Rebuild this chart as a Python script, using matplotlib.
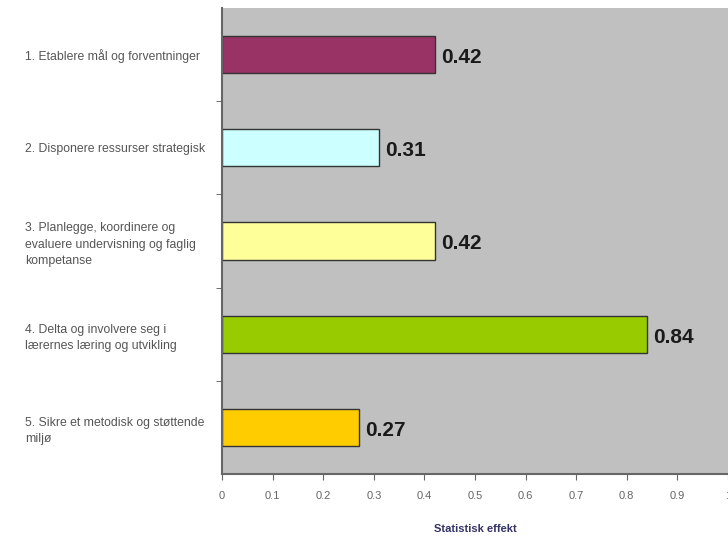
import matplotlib
matplotlib.use("Agg")
import matplotlib.pyplot as plt
from matplotlib.ticker import FixedLocator

categories = [
    "1. Etablere mål og forventninger",
    "2. Disponere ressurser strategisk",
    "3. Planlegge, koordinere og\nevaluere undervisning og faglig\nkompetanse",
    "4. Delta og involvere seg i\nlærernes læring og utvikling",
    "5. Sikre et metodisk og støttende\nmiljø",
]
values = [0.42, 0.31, 0.42, 0.84, 0.27]
colors = ["#993366", "#CCFFFF", "#FFFF99", "#99CC00", "#FFCC00"]
xticks = [0, 0.1, 0.2, 0.3, 0.4, 0.5, 0.6, 0.7, 0.8, 0.9, 1]
xticklabels = ["0", "0.1", "0.2", "0.3", "0.4", "0.5", "0.6", "0.7", "0.8", "0.9", "1"]
xlabel = "Statistisk effekt"

plt.rcParams['font.family'] = ['Liberation Sans', 'DejaVu Sans']

fig = plt.figure(figsize=(7.28, 5.38), dpi=100)
ax = fig.add_axes([0.305, 0.119, 0.695, 0.866])
ax.set_facecolor("#C0C0C0")

ypos = list(range(len(categories)))
bars = ax.barh(ypos, values, height=0.4, color=colors, edgecolor="#333333", linewidth=1.0)
for b, v in zip(bars, values):
    ax.text(v + 0.013, b.get_y() + b.get_height() / 2 + 0.03, f"{v:.2f}",
            va="center", ha="left", fontsize=15, fontweight="bold", color="#1a1a1a")

ax.set_ylim(len(categories) - 0.5, -0.5)
ax.set_xlim(0, 1)
ax.set_yticks(ypos)
ax.set_yticklabels(categories, ha="left", fontsize=8.8, color="#555555", linespacing=1.5)
ax.tick_params(axis="y", which="major", length=0, pad=142)
ax.yaxis.set_minor_locator(FixedLocator([0.5, 1.5, 2.5, 3.5]))
ax.tick_params(axis="y", which="minor", length=4, color="#555555")

ax.set_xticks(xticks)
ax.set_xticklabels(xticklabels, fontsize=8, color="#666666")
ax.tick_params(axis="x", length=4, color="#666666", pad=8)
ax.set_xlabel(xlabel, fontsize=8, fontweight="bold", color="#333366", labelpad=17)

for s in ["top", "right"]:
    ax.spines[s].set_visible(False)
ax.spines["left"].set_color("#666666")
ax.spines["bottom"].set_color("#666666")
ax.spines["left"].set_linewidth(1.5)
ax.spines["bottom"].set_linewidth(1.5)

fig.savefig("out.png", dpi=100)
